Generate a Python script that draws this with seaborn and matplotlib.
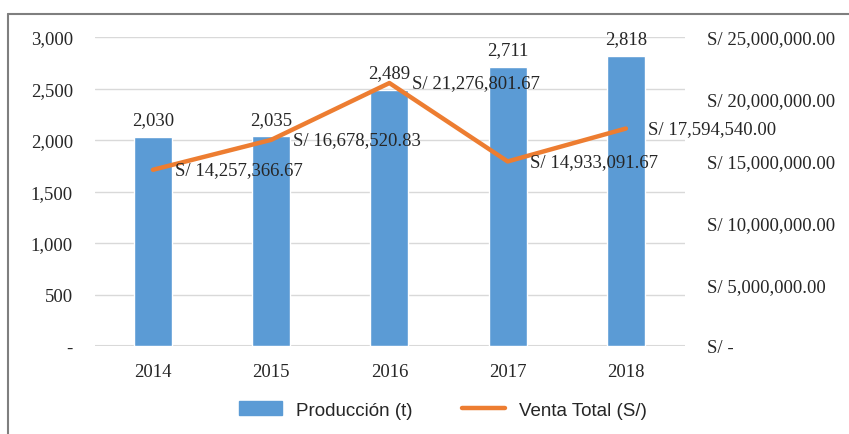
import pandas as pd
import matplotlib
matplotlib.use("Agg")
import matplotlib.pyplot as plt
from matplotlib.patches import Patch
from matplotlib.lines import Line2D
import seaborn as sns

# datos
anios = ["2014", "2015", "2016", "2017", "2018"]
produccion = [2030, 2035, 2489, 2711, 2818]
ventas = [14257366.67, 16678520.83, 21276801.67, 14933091.67, 17594540.00]

df = pd.DataFrame({"Anio": anios, "Produccion": produccion, "Venta": ventas})

azul = "#5B9BD5"
naranja = "#ED7D31"
gris = "#D9D9D9"

sns.set_style("white")
plt.rcParams["font.family"] = ["Liberation Serif", "DejaVu Serif"]

fig = plt.figure(figsize=(8.49, 4.35), dpi=100)
ax = fig.add_axes([95 / 849, 1 - 347 / 435, 590 / 849, 309 / 435])
ax2 = ax.twinx()

# barras: produccion
sns.barplot(data=df, x="Anio", y="Produccion", color=azul, width=0.32,
            saturation=1, ax=ax, zorder=2)
ax.bar_label(ax.containers[0], labels=[f"{v:,}" for v in produccion],
             padding=6, fontsize=13.5)

# linea: venta total
sns.pointplot(data=df, x="Anio", y="Venta", color=naranja, marker="",
              linewidth=3.2, ax=ax2)
for i, v in enumerate(ventas):
    ax2.annotate(f"S/ {v:,.2f}", (i, v), xytext=(16, 0),
                 textcoords="offset points", ha="left", va="center",
                 fontsize=13.5)

ax.set_ylim(0, 3000)
ax.set_yticks(range(0, 3001, 500))
ax.set_yticklabels(["-" if t == 0 else f"{t:,}" for t in range(0, 3001, 500)])
ax2.set_ylim(0, 25000000)
ticks2 = list(range(0, 25000001, 5000000))
ax2.set_yticks(ticks2)
ax2.set_yticklabels(["S/ -" if t == 0 else f"S/ {t:,.2f}" for t in ticks2])
ax.set_xlim(-0.49, 4.5)

ax.yaxis.grid(True, color=gris, linewidth=1)
ax.set_axisbelow(True)
ax.set_xlabel("")
ax.set_ylabel("")
ax2.set_xlabel("")
ax2.set_ylabel("")

for a in (ax, ax2):
    for s in ("top", "left", "right", "bottom"):
        a.spines[s].set_visible(False)
    a.tick_params(length=0, labelsize=13.5)
ax.axhline(0, color=gris, linewidth=1.5, zorder=1)
ax.tick_params(axis="y", pad=16)
ax.tick_params(axis="x", pad=12)
ax2.tick_params(axis="y", pad=16)

# leyenda
handles = [Patch(facecolor=azul, edgecolor=azul),
           Line2D([0], [0], color=naranja, linewidth=3.2)]
fig.legend(handles, ["Producción (t)", "Venta Total (S/)"], loc="center",
           bbox_to_anchor=(443 / 849, 1 - 411 / 435), ncol=2, frameon=False,
           prop={"family": "Liberation Sans", "size": 13.5},
           handlelength=2.3, columnspacing=2.6, handletextpad=0.75)

# marco
fig.add_artist(Line2D([8 / 849, 8 / 849], [0, 1 - 15 / 435],
                      transform=fig.transFigure, color="#7F7F7F", linewidth=1.5))
fig.add_artist(Line2D([8 / 849, 1], [1 - 15 / 435, 1 - 15 / 435],
                      transform=fig.transFigure, color="#7F7F7F", linewidth=1.5))

fig.savefig("out.png", dpi=100)
